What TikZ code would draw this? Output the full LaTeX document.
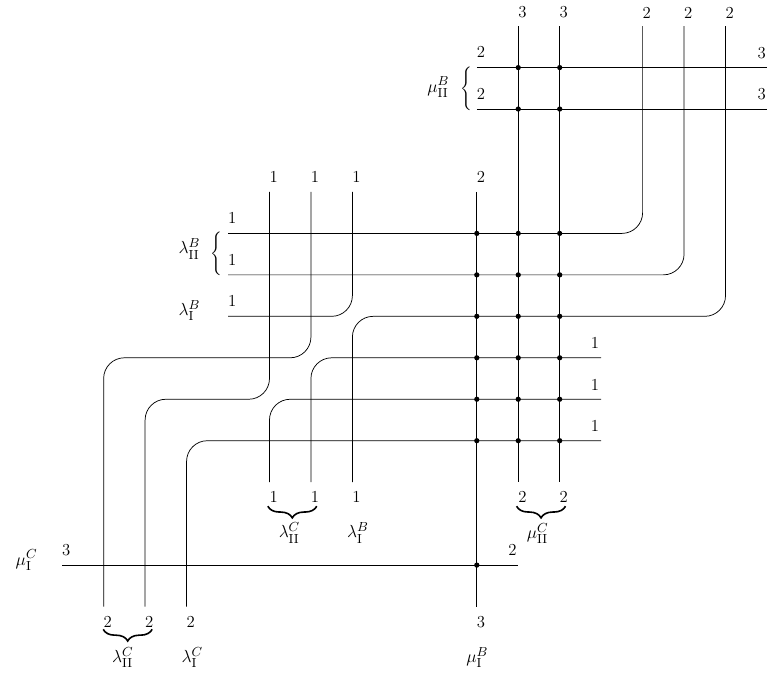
\documentclass[tikz,border=0pt]{standalone}
\usepackage{amsmath}
\usetikzlibrary{decorations.pathreplacing}
\begin{document}
\begin{tikzpicture}[x=1cm,y=1cm,
  strand/.style={line width=0.5pt, rounded corners=0.5cm},
  dot/.style={circle, fill, inner sep=0pt, minimum size=3.6pt},
  num/.style={inner sep=0pt, font=\fontsize{11.5}{13}\selectfont},
  lab/.style={inner sep=0pt, font=\fontsize{12.5}{14}\selectfont},
  brc/.style={inner sep=0pt},
  ubrace/.style={decorate, decoration={brace, mirror, amplitude=8pt, aspect=0.5}, line width=1.1pt}]
\useasboundingbox (-2.5,-2.65) rectangle (16,13.63);
% end points
\foreach \x in {10,11,13,14,15} \coordinate (T\x) at (\x,13);
\foreach \x in {4,5,6,9} \coordinate (T\x) at (\x,9);
\foreach \x in {4,5,6,10,11} \coordinate (B\x) at (\x,2);
\foreach \x in {0,1,2,9} \coordinate (B\x) at (\x,-1);
\coordinate (L12) at (9,12);
\coordinate (L11) at (9,11);
\coordinate (R12) at (16,12);
\coordinate (R11) at (16,11);
\coordinate (L8) at (3,8);
\coordinate (L7) at (3,7);
\coordinate (L6) at (3,6);
\coordinate (R5) at (12,5);
\coordinate (R4) at (12,4);
\coordinate (R3) at (12,3);
\coordinate (L0) at (-1,0);
\coordinate (R0) at (10,0);
% strands
\draw[strand] (T10) -- (B10);
\draw[strand] (T11) -- (B11);
\draw[strand] (T9) -- (B9);
\draw[strand] (L12) -- (R12);
\draw[strand] (L11) -- (R11);
\draw[strand] (L0) -- (R0);
\draw[strand] (T13) |- (L8);
\draw[strand] (T14) |- (L7);
\draw[strand] (T15) |- (6,6) -- (B6);
\draw[strand] (T6) |- (L6);
\draw[strand] (T5) |- (0,5) -- (B0);
\draw[strand] (T4) |- (1,4) -- (B1);
\draw[strand] (R5) -| (B5);
\draw[strand] (R4) -| (B4);
\draw[strand] (R3) -| (B2);
% dots
\foreach \x in {9,10,11} \foreach \y in {3,...,8} \node[dot] (d\x-\y) at (\x,\y) {};
\foreach \x in {10,11} \foreach \y in {11,12} \node[dot] (d\x-\y) at (\x,\y) {};
\node[dot] (d9-0) at (9,0) {};
% top labels
\node[num] (nT10) at (10.1,13.33) {3};
\node[num] (nT11) at (11.1,13.33) {3};
\node[num] (nT13) at (13.1,13.33) {2};
\node[num] (nT14) at (14.1,13.33) {2};
\node[num] (nT15) at (15.1,13.33) {2};
\node[num] (nT4) at (4.1,9.36) {1};
\node[num] (nT5) at (5.1,9.36) {1};
\node[num] (nT6) at (6.1,9.36) {1};
\node[num] (nT9) at (9.1,9.36) {2};
% left labels
\node[num] (nL12) at (9.1,12.37) {2};
\node[num] (nL11) at (9.1,11.37) {2};
\node[num] (nL8) at (3.1,8.37) {1};
\node[num] (nL7) at (3.1,7.37) {1};
\node[num] (nL6) at (3.1,6.37) {1};
\node[num] (nL0) at (-0.9,0.37) {3};
% right labels
\node[num] (nR12) at (15.87,12.36) {3};
\node[num] (nR11) at (15.87,11.36) {3};
\node[num] (nR5) at (11.85,5.35) {1};
\node[num] (nR4) at (11.85,4.35) {1};
\node[num] (nR3) at (11.85,3.35) {1};
\node[num] (nR0) at (9.86,0.37) {2};
% bottom labels
\node[num] (nB4) at (4.1,1.64) {1};
\node[num] (nB5) at (5.1,1.64) {1};
\node[num] (nB6) at (6.1,1.64) {1};
\node[num] (nB10) at (10.1,1.64) {2};
\node[num] (nB11) at (11.1,1.64) {2};
\node[num] (nB0) at (0.1,-1.37) {2};
\node[num] (nB1) at (1.1,-1.37) {2};
\node[num] (nB2) at (2.1,-1.37) {2};
\node[num] (nB9) at (9.1,-1.37) {3};
% braces
\node[brc] (brA) at (2.71,7.5) {$\Bigg\{$};
\node[brc] (brB) at (8.76,11.5) {$\Bigg\{$};
\coordinate (ubA1) at (3.96,1.42);
\coordinate (ubA2) at (5.14,1.42);
\coordinate (ubB1) at (9.96,1.42);
\coordinate (ubB2) at (11.14,1.42);
\coordinate (ubC1) at (-0.01,-1.55);
\coordinate (ubC2) at (1.17,-1.55);
\draw[ubrace] (ubA1) -- (ubA2);
\draw[ubrace] (ubB1) -- (ubB2);
\draw[ubrace] (ubC1) -- (ubC2);
% greek labels
\node[lab] (gA) at (8.07,11.53) {$\mu^B_{\mathrm{II}}$};
\node[lab] (gB) at (2.07,7.63) {$\lambda^B_{\mathrm{II}}$};
\node[lab] (gC) at (2.07,6.14) {$\lambda^B_{\mathrm{I}}$};
\node[lab] (gD) at (-1.86,0.12) {$\mu^C_{\mathrm{I}}$};
\node[lab] (gE) at (4.48,0.78) {$\lambda^C_{\mathrm{II}}$};
\node[lab] (gF) at (6.13,0.78) {$\lambda^B_{\mathrm{I}}$};
\node[lab] (gG) at (10.47,0.76) {$\mu^C_{\mathrm{II}}$};
\node[lab] (gH) at (0.46,-2.23) {$\lambda^C_{\mathrm{II}}$};
\node[lab] (gI) at (2.14,-2.23) {$\lambda^C_{\mathrm{I}}$};
\node[lab] (gJ) at (9.01,-2.23) {$\mu^B_{\mathrm{I}}$};
\end{tikzpicture}
\end{document}
